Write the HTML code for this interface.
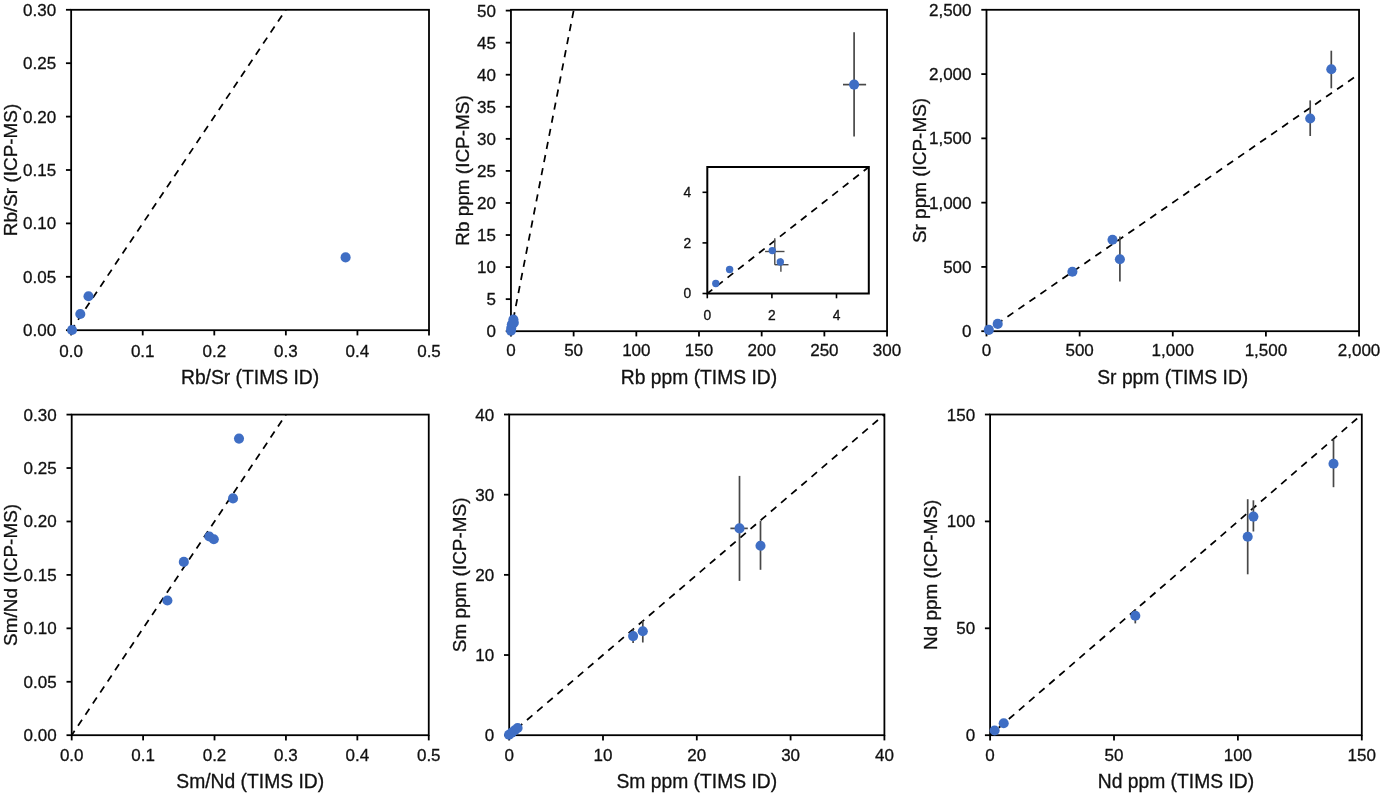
<!DOCTYPE html>
<html><head><meta charset="utf-8"><title>ICP-MS vs TIMS ID</title>
<style>
html,body{margin:0;padding:0;background:#fff;}
body{width:1383px;height:796px;overflow:hidden;}
svg{display:block;will-change:transform;font-family:"Liberation Sans",sans-serif;fill:#111;}
text{stroke:#111;stroke-width:0.3px;}
</style></head><body>
<svg width="1383" height="796" viewBox="0 0 1383 796">
<line x1="285.86" y1="9.80" x2="71.15" y2="330.20" stroke="#000" stroke-width="1.75" stroke-dasharray="7.2 6.10" stroke-dashoffset="-6.90"/>
<rect x="71.15" y="9.80" width="357.85" height="320.40" fill="none" stroke="#000" stroke-width="1.8"/>
<line x1="71.15" y1="330.20" x2="71.15" y2="335.40" stroke="#000" stroke-width="1.8"/>
<text x="71.15" y="356.50" text-anchor="middle" font-size="17.0">0.0</text>
<line x1="142.72" y1="330.20" x2="142.72" y2="335.40" stroke="#000" stroke-width="1.8"/>
<text x="142.72" y="356.50" text-anchor="middle" font-size="17.0">0.1</text>
<line x1="214.29" y1="330.20" x2="214.29" y2="335.40" stroke="#000" stroke-width="1.8"/>
<text x="214.29" y="356.50" text-anchor="middle" font-size="17.0">0.2</text>
<line x1="285.86" y1="330.20" x2="285.86" y2="335.40" stroke="#000" stroke-width="1.8"/>
<text x="285.86" y="356.50" text-anchor="middle" font-size="17.0">0.3</text>
<line x1="357.43" y1="330.20" x2="357.43" y2="335.40" stroke="#000" stroke-width="1.8"/>
<text x="357.43" y="356.50" text-anchor="middle" font-size="17.0">0.4</text>
<line x1="429.00" y1="330.20" x2="429.00" y2="335.40" stroke="#000" stroke-width="1.8"/>
<text x="429.00" y="356.50" text-anchor="middle" font-size="17.0">0.5</text>
<line x1="65.95" y1="330.20" x2="71.15" y2="330.20" stroke="#000" stroke-width="1.8"/>
<text x="56.15" y="336.20" text-anchor="end" font-size="17.0">0.00</text>
<line x1="65.95" y1="276.80" x2="71.15" y2="276.80" stroke="#000" stroke-width="1.8"/>
<text x="56.15" y="282.80" text-anchor="end" font-size="17.0">0.05</text>
<line x1="65.95" y1="223.40" x2="71.15" y2="223.40" stroke="#000" stroke-width="1.8"/>
<text x="56.15" y="229.40" text-anchor="end" font-size="17.0">0.10</text>
<line x1="65.95" y1="170.00" x2="71.15" y2="170.00" stroke="#000" stroke-width="1.8"/>
<text x="56.15" y="176.00" text-anchor="end" font-size="17.0">0.15</text>
<line x1="65.95" y1="116.60" x2="71.15" y2="116.60" stroke="#000" stroke-width="1.8"/>
<text x="56.15" y="122.60" text-anchor="end" font-size="17.0">0.20</text>
<line x1="65.95" y1="63.20" x2="71.15" y2="63.20" stroke="#000" stroke-width="1.8"/>
<text x="56.15" y="69.20" text-anchor="end" font-size="17.0">0.25</text>
<line x1="65.95" y1="9.80" x2="71.15" y2="9.80" stroke="#000" stroke-width="1.8"/>
<text x="56.15" y="15.80" text-anchor="end" font-size="17.0">0.30</text>
<text x="250.07" y="383.80" text-anchor="middle" font-size="19.3">Rb/Sr (TIMS ID)</text>
<text transform="translate(17.40,170.00) rotate(-90)" text-anchor="middle" font-size="18.95">Rb/Sr (ICP-MS)</text>
<circle cx="72.0" cy="330.0" r="5.05" fill="#3F6EC4"/>
<circle cx="80.3" cy="314.0" r="5.05" fill="#3F6EC4"/>
<circle cx="88.5" cy="296.3" r="5.05" fill="#3F6EC4"/>
<circle cx="345.6" cy="257.4" r="5.05" fill="#3F6EC4"/>
<line x1="573.63" y1="10.60" x2="510.95" y2="331.20" stroke="#000" stroke-width="1.75" stroke-dasharray="7.2 6.15" stroke-dashoffset="-0.30"/>
<rect x="510.95" y="9.80" width="376.10" height="321.40" fill="none" stroke="#000" stroke-width="1.8"/>
<line x1="510.95" y1="331.20" x2="510.95" y2="336.40" stroke="#000" stroke-width="1.8"/>
<text x="510.95" y="356.40" text-anchor="middle" font-size="17.0">0</text>
<line x1="573.63" y1="331.20" x2="573.63" y2="336.40" stroke="#000" stroke-width="1.8"/>
<text x="573.63" y="356.40" text-anchor="middle" font-size="17.0">50</text>
<line x1="636.32" y1="331.20" x2="636.32" y2="336.40" stroke="#000" stroke-width="1.8"/>
<text x="636.32" y="356.40" text-anchor="middle" font-size="17.0">100</text>
<line x1="699.00" y1="331.20" x2="699.00" y2="336.40" stroke="#000" stroke-width="1.8"/>
<text x="699.00" y="356.40" text-anchor="middle" font-size="17.0">150</text>
<line x1="761.68" y1="331.20" x2="761.68" y2="336.40" stroke="#000" stroke-width="1.8"/>
<text x="761.68" y="356.40" text-anchor="middle" font-size="17.0">200</text>
<line x1="824.37" y1="331.20" x2="824.37" y2="336.40" stroke="#000" stroke-width="1.8"/>
<text x="824.37" y="356.40" text-anchor="middle" font-size="17.0">250</text>
<line x1="887.05" y1="331.20" x2="887.05" y2="336.40" stroke="#000" stroke-width="1.8"/>
<text x="887.05" y="356.40" text-anchor="middle" font-size="17.0">300</text>
<line x1="505.75" y1="331.20" x2="510.95" y2="331.20" stroke="#000" stroke-width="1.8"/>
<text x="495.95" y="337.20" text-anchor="end" font-size="17.0">0</text>
<line x1="505.75" y1="299.14" x2="510.95" y2="299.14" stroke="#000" stroke-width="1.8"/>
<text x="495.95" y="305.14" text-anchor="end" font-size="17.0">5</text>
<line x1="505.75" y1="267.08" x2="510.95" y2="267.08" stroke="#000" stroke-width="1.8"/>
<text x="495.95" y="273.08" text-anchor="end" font-size="17.0">10</text>
<line x1="505.75" y1="235.02" x2="510.95" y2="235.02" stroke="#000" stroke-width="1.8"/>
<text x="495.95" y="241.02" text-anchor="end" font-size="17.0">15</text>
<line x1="505.75" y1="202.96" x2="510.95" y2="202.96" stroke="#000" stroke-width="1.8"/>
<text x="495.95" y="208.96" text-anchor="end" font-size="17.0">20</text>
<line x1="505.75" y1="170.90" x2="510.95" y2="170.90" stroke="#000" stroke-width="1.8"/>
<text x="495.95" y="176.90" text-anchor="end" font-size="17.0">25</text>
<line x1="505.75" y1="138.84" x2="510.95" y2="138.84" stroke="#000" stroke-width="1.8"/>
<text x="495.95" y="144.84" text-anchor="end" font-size="17.0">30</text>
<line x1="505.75" y1="106.78" x2="510.95" y2="106.78" stroke="#000" stroke-width="1.8"/>
<text x="495.95" y="112.78" text-anchor="end" font-size="17.0">35</text>
<line x1="505.75" y1="74.72" x2="510.95" y2="74.72" stroke="#000" stroke-width="1.8"/>
<text x="495.95" y="80.72" text-anchor="end" font-size="17.0">40</text>
<line x1="505.75" y1="42.66" x2="510.95" y2="42.66" stroke="#000" stroke-width="1.8"/>
<text x="495.95" y="48.66" text-anchor="end" font-size="17.0">45</text>
<line x1="505.75" y1="10.60" x2="510.95" y2="10.60" stroke="#000" stroke-width="1.8"/>
<text x="495.95" y="16.60" text-anchor="end" font-size="17.0">50</text>
<text x="699.00" y="384.40" text-anchor="middle" font-size="19.3">Rb ppm (TIMS ID)</text>
<text transform="translate(468.60,170.50) rotate(-90)" text-anchor="middle" font-size="18.95">Rb ppm (ICP-MS)</text>
<line x1="854.1" y1="32.2" x2="854.1" y2="136.4" stroke="#484848" stroke-width="1.7"/>
<line x1="843.0" y1="84.6" x2="866.1" y2="84.6" stroke="#484848" stroke-width="1.7"/>
<circle cx="511.0" cy="330.6" r="5.05" fill="#3F6EC4"/>
<circle cx="511.3" cy="327.8" r="5.05" fill="#3F6EC4"/>
<circle cx="511.9" cy="324.3" r="5.05" fill="#3F6EC4"/>
<circle cx="513.4" cy="319.5" r="5.05" fill="#3F6EC4"/>
<circle cx="513.8" cy="322.7" r="5.05" fill="#3F6EC4"/>
<circle cx="854.1" cy="84.6" r="5.05" fill="#3F6EC4"/>
<line x1="1359.05" y1="74.08" x2="986.50" y2="331.20" stroke="#000" stroke-width="1.75" stroke-dasharray="7.2 6.15" stroke-dashoffset="-6.15"/>
<rect x="986.50" y="9.80" width="372.55" height="321.40" fill="none" stroke="#000" stroke-width="1.8"/>
<line x1="986.50" y1="331.20" x2="986.50" y2="336.40" stroke="#000" stroke-width="1.8"/>
<text x="986.50" y="356.40" text-anchor="middle" font-size="17.0">0</text>
<line x1="1079.64" y1="331.20" x2="1079.64" y2="336.40" stroke="#000" stroke-width="1.8"/>
<text x="1079.64" y="356.40" text-anchor="middle" font-size="17.0">500</text>
<line x1="1172.78" y1="331.20" x2="1172.78" y2="336.40" stroke="#000" stroke-width="1.8"/>
<text x="1172.78" y="356.40" text-anchor="middle" font-size="17.0">1,000</text>
<line x1="1265.91" y1="331.20" x2="1265.91" y2="336.40" stroke="#000" stroke-width="1.8"/>
<text x="1265.91" y="356.40" text-anchor="middle" font-size="17.0">1,500</text>
<line x1="1359.05" y1="331.20" x2="1359.05" y2="336.40" stroke="#000" stroke-width="1.8"/>
<text x="1359.05" y="356.40" text-anchor="middle" font-size="17.0">2,000</text>
<line x1="981.30" y1="331.20" x2="986.50" y2="331.20" stroke="#000" stroke-width="1.8"/>
<text x="971.50" y="337.20" text-anchor="end" font-size="17.0">0</text>
<line x1="981.30" y1="266.92" x2="986.50" y2="266.92" stroke="#000" stroke-width="1.8"/>
<text x="971.50" y="272.92" text-anchor="end" font-size="17.0">500</text>
<line x1="981.30" y1="202.64" x2="986.50" y2="202.64" stroke="#000" stroke-width="1.8"/>
<text x="971.50" y="208.64" text-anchor="end" font-size="17.0">1,000</text>
<line x1="981.30" y1="138.36" x2="986.50" y2="138.36" stroke="#000" stroke-width="1.8"/>
<text x="971.50" y="144.36" text-anchor="end" font-size="17.0">1,500</text>
<line x1="981.30" y1="74.08" x2="986.50" y2="74.08" stroke="#000" stroke-width="1.8"/>
<text x="971.50" y="80.08" text-anchor="end" font-size="17.0">2,000</text>
<line x1="981.30" y1="9.80" x2="986.50" y2="9.80" stroke="#000" stroke-width="1.8"/>
<text x="971.50" y="15.80" text-anchor="end" font-size="17.0">2,500</text>
<text x="1172.78" y="384.40" text-anchor="middle" font-size="19.3">Sr ppm (TIMS ID)</text>
<text transform="translate(925.70,170.50) rotate(-90)" text-anchor="middle" font-size="18.95">Sr ppm (ICP-MS)</text>
<line x1="1119.9" y1="236.4" x2="1119.9" y2="281.4" stroke="#484848" stroke-width="1.7"/>
<line x1="1310.2" y1="100.4" x2="1310.2" y2="136.0" stroke="#484848" stroke-width="1.7"/>
<line x1="1331.3" y1="50.7" x2="1331.3" y2="88.3" stroke="#484848" stroke-width="1.7"/>
<circle cx="988.8" cy="329.9" r="5.05" fill="#3F6EC4"/>
<circle cx="997.7" cy="323.9" r="5.05" fill="#3F6EC4"/>
<circle cx="1072.4" cy="271.8" r="5.05" fill="#3F6EC4"/>
<circle cx="1112.5" cy="239.7" r="5.05" fill="#3F6EC4"/>
<circle cx="1119.9" cy="259.2" r="5.05" fill="#3F6EC4"/>
<circle cx="1310.2" cy="118.5" r="5.05" fill="#3F6EC4"/>
<circle cx="1331.3" cy="69.2" r="5.05" fill="#3F6EC4"/>
<line x1="285.93" y1="414.60" x2="71.70" y2="735.20" stroke="#000" stroke-width="1.75" stroke-dasharray="7.2 6.13" stroke-dashoffset="-7.10"/>
<rect x="71.70" y="414.60" width="357.05" height="320.60" fill="none" stroke="#000" stroke-width="1.8"/>
<line x1="71.70" y1="735.20" x2="71.70" y2="740.40" stroke="#000" stroke-width="1.8"/>
<text x="71.70" y="760.60" text-anchor="middle" font-size="17.0">0.0</text>
<line x1="143.11" y1="735.20" x2="143.11" y2="740.40" stroke="#000" stroke-width="1.8"/>
<text x="143.11" y="760.60" text-anchor="middle" font-size="17.0">0.1</text>
<line x1="214.52" y1="735.20" x2="214.52" y2="740.40" stroke="#000" stroke-width="1.8"/>
<text x="214.52" y="760.60" text-anchor="middle" font-size="17.0">0.2</text>
<line x1="285.93" y1="735.20" x2="285.93" y2="740.40" stroke="#000" stroke-width="1.8"/>
<text x="285.93" y="760.60" text-anchor="middle" font-size="17.0">0.3</text>
<line x1="357.34" y1="735.20" x2="357.34" y2="740.40" stroke="#000" stroke-width="1.8"/>
<text x="357.34" y="760.60" text-anchor="middle" font-size="17.0">0.4</text>
<line x1="428.75" y1="735.20" x2="428.75" y2="740.40" stroke="#000" stroke-width="1.8"/>
<text x="428.75" y="760.60" text-anchor="middle" font-size="17.0">0.5</text>
<line x1="66.50" y1="735.20" x2="71.70" y2="735.20" stroke="#000" stroke-width="1.8"/>
<text x="56.70" y="741.20" text-anchor="end" font-size="17.0">0.00</text>
<line x1="66.50" y1="681.77" x2="71.70" y2="681.77" stroke="#000" stroke-width="1.8"/>
<text x="56.70" y="687.77" text-anchor="end" font-size="17.0">0.05</text>
<line x1="66.50" y1="628.33" x2="71.70" y2="628.33" stroke="#000" stroke-width="1.8"/>
<text x="56.70" y="634.33" text-anchor="end" font-size="17.0">0.10</text>
<line x1="66.50" y1="574.90" x2="71.70" y2="574.90" stroke="#000" stroke-width="1.8"/>
<text x="56.70" y="580.90" text-anchor="end" font-size="17.0">0.15</text>
<line x1="66.50" y1="521.47" x2="71.70" y2="521.47" stroke="#000" stroke-width="1.8"/>
<text x="56.70" y="527.47" text-anchor="end" font-size="17.0">0.20</text>
<line x1="66.50" y1="468.03" x2="71.70" y2="468.03" stroke="#000" stroke-width="1.8"/>
<text x="56.70" y="474.03" text-anchor="end" font-size="17.0">0.25</text>
<line x1="66.50" y1="414.60" x2="71.70" y2="414.60" stroke="#000" stroke-width="1.8"/>
<text x="56.70" y="420.60" text-anchor="end" font-size="17.0">0.30</text>
<text x="250.22" y="788.40" text-anchor="middle" font-size="19.3">Sm/Nd (TIMS ID)</text>
<text transform="translate(17.30,574.90) rotate(-90)" text-anchor="middle" font-size="18.95">Sm/Nd (ICP-MS)</text>
<circle cx="239.0" cy="438.6" r="5.05" fill="#3F6EC4"/>
<circle cx="233.0" cy="498.4" r="5.05" fill="#3F6EC4"/>
<circle cx="209.3" cy="536.5" r="5.05" fill="#3F6EC4"/>
<circle cx="213.8" cy="539.2" r="5.05" fill="#3F6EC4"/>
<circle cx="183.8" cy="561.9" r="5.05" fill="#3F6EC4"/>
<circle cx="167.4" cy="600.5" r="5.05" fill="#3F6EC4"/>
<line x1="884.40" y1="414.50" x2="509.20" y2="735.20" stroke="#000" stroke-width="1.75" stroke-dasharray="7.2 6.17" stroke-dashoffset="-8.45"/>
<rect x="509.20" y="414.50" width="375.20" height="320.70" fill="none" stroke="#000" stroke-width="1.8"/>
<line x1="509.20" y1="735.20" x2="509.20" y2="740.40" stroke="#000" stroke-width="1.8"/>
<text x="509.20" y="760.60" text-anchor="middle" font-size="17.0">0</text>
<line x1="603.00" y1="735.20" x2="603.00" y2="740.40" stroke="#000" stroke-width="1.8"/>
<text x="603.00" y="760.60" text-anchor="middle" font-size="17.0">10</text>
<line x1="696.80" y1="735.20" x2="696.80" y2="740.40" stroke="#000" stroke-width="1.8"/>
<text x="696.80" y="760.60" text-anchor="middle" font-size="17.0">20</text>
<line x1="790.60" y1="735.20" x2="790.60" y2="740.40" stroke="#000" stroke-width="1.8"/>
<text x="790.60" y="760.60" text-anchor="middle" font-size="17.0">30</text>
<line x1="884.40" y1="735.20" x2="884.40" y2="740.40" stroke="#000" stroke-width="1.8"/>
<text x="884.40" y="760.60" text-anchor="middle" font-size="17.0">40</text>
<line x1="504.00" y1="735.20" x2="509.20" y2="735.20" stroke="#000" stroke-width="1.8"/>
<text x="494.20" y="741.20" text-anchor="end" font-size="17.0">0</text>
<line x1="504.00" y1="655.03" x2="509.20" y2="655.03" stroke="#000" stroke-width="1.8"/>
<text x="494.20" y="661.03" text-anchor="end" font-size="17.0">10</text>
<line x1="504.00" y1="574.85" x2="509.20" y2="574.85" stroke="#000" stroke-width="1.8"/>
<text x="494.20" y="580.85" text-anchor="end" font-size="17.0">20</text>
<line x1="504.00" y1="494.67" x2="509.20" y2="494.67" stroke="#000" stroke-width="1.8"/>
<text x="494.20" y="500.67" text-anchor="end" font-size="17.0">30</text>
<line x1="504.00" y1="414.50" x2="509.20" y2="414.50" stroke="#000" stroke-width="1.8"/>
<text x="494.20" y="420.50" text-anchor="end" font-size="17.0">40</text>
<text x="696.80" y="788.40" text-anchor="middle" font-size="19.3">Sm ppm (TIMS ID)</text>
<text transform="translate(466.10,574.85) rotate(-90)" text-anchor="middle" font-size="18.95">Sm ppm (ICP-MS)</text>
<line x1="633.1" y1="629.2" x2="633.1" y2="643.0" stroke="#484848" stroke-width="1.7"/>
<line x1="642.8" y1="620.9" x2="642.8" y2="642.5" stroke="#484848" stroke-width="1.7"/>
<line x1="739.5" y1="475.9" x2="739.5" y2="580.9" stroke="#484848" stroke-width="1.7"/>
<line x1="730.4" y1="528.4" x2="747.8" y2="528.4" stroke="#484848" stroke-width="1.7"/>
<line x1="760.5" y1="520.7" x2="760.5" y2="569.8" stroke="#484848" stroke-width="1.7"/>
<circle cx="509.0" cy="734.8" r="5.05" fill="#3F6EC4"/>
<circle cx="511.8" cy="732.6" r="5.05" fill="#3F6EC4"/>
<circle cx="514.8" cy="730.2" r="5.05" fill="#3F6EC4"/>
<circle cx="517.6" cy="728.0" r="5.05" fill="#3F6EC4"/>
<circle cx="633.1" cy="636.1" r="5.05" fill="#3F6EC4"/>
<circle cx="642.8" cy="631.2" r="5.05" fill="#3F6EC4"/>
<circle cx="739.5" cy="528.4" r="5.05" fill="#3F6EC4"/>
<circle cx="760.5" cy="545.8" r="5.05" fill="#3F6EC4"/>
<line x1="1361.80" y1="414.50" x2="990.10" y2="735.20" stroke="#000" stroke-width="1.75" stroke-dasharray="7.2 6.12" stroke-dashoffset="-6.10"/>
<rect x="990.10" y="414.50" width="371.70" height="320.70" fill="none" stroke="#000" stroke-width="1.8"/>
<line x1="990.10" y1="735.20" x2="990.10" y2="740.40" stroke="#000" stroke-width="1.8"/>
<text x="990.10" y="760.60" text-anchor="middle" font-size="17.0">0</text>
<line x1="1114.00" y1="735.20" x2="1114.00" y2="740.40" stroke="#000" stroke-width="1.8"/>
<text x="1114.00" y="760.60" text-anchor="middle" font-size="17.0">50</text>
<line x1="1237.90" y1="735.20" x2="1237.90" y2="740.40" stroke="#000" stroke-width="1.8"/>
<text x="1237.90" y="760.60" text-anchor="middle" font-size="17.0">100</text>
<line x1="1361.80" y1="735.20" x2="1361.80" y2="740.40" stroke="#000" stroke-width="1.8"/>
<text x="1361.80" y="760.60" text-anchor="middle" font-size="17.0">150</text>
<line x1="984.90" y1="735.20" x2="990.10" y2="735.20" stroke="#000" stroke-width="1.8"/>
<text x="975.10" y="741.20" text-anchor="end" font-size="17.0">0</text>
<line x1="984.90" y1="628.30" x2="990.10" y2="628.30" stroke="#000" stroke-width="1.8"/>
<text x="975.10" y="634.30" text-anchor="end" font-size="17.0">50</text>
<line x1="984.90" y1="521.40" x2="990.10" y2="521.40" stroke="#000" stroke-width="1.8"/>
<text x="975.10" y="527.40" text-anchor="end" font-size="17.0">100</text>
<line x1="984.90" y1="414.50" x2="990.10" y2="414.50" stroke="#000" stroke-width="1.8"/>
<text x="975.10" y="420.50" text-anchor="end" font-size="17.0">150</text>
<text x="1175.95" y="788.40" text-anchor="middle" font-size="19.3">Nd ppm (TIMS ID)</text>
<text transform="translate(937.30,574.85) rotate(-90)" text-anchor="middle" font-size="18.95">Nd ppm (ICP-MS)</text>
<line x1="1135.3" y1="609.0" x2="1135.3" y2="623.4" stroke="#484848" stroke-width="1.7"/>
<line x1="1247.7" y1="499.2" x2="1247.7" y2="574.3" stroke="#484848" stroke-width="1.7"/>
<line x1="1253.4" y1="500.3" x2="1253.4" y2="531.5" stroke="#484848" stroke-width="1.7"/>
<line x1="1333.5" y1="439.2" x2="1333.5" y2="487.2" stroke="#484848" stroke-width="1.7"/>
<circle cx="994.6" cy="730.5" r="5.05" fill="#3F6EC4"/>
<circle cx="1003.7" cy="723.2" r="5.05" fill="#3F6EC4"/>
<circle cx="1135.3" cy="615.7" r="5.05" fill="#3F6EC4"/>
<circle cx="1247.7" cy="536.7" r="5.05" fill="#3F6EC4"/>
<circle cx="1253.4" cy="516.6" r="5.05" fill="#3F6EC4"/>
<circle cx="1333.5" cy="463.7" r="5.05" fill="#3F6EC4"/>
<rect x="707.3" y="167.0" width="161.50" height="126.50" fill="#fff" stroke="#000" stroke-width="2"/>
<line x1="868.8" y1="167.0" x2="707.3" y2="293.5" stroke="#000" stroke-width="1.75" stroke-dasharray="7.2 6.1" stroke-dashoffset="0.7"/>
<line x1="707.30" y1="293.5" x2="707.30" y2="298.3" stroke="#000" stroke-width="1.6"/>
<line x1="702.5" y1="293.50" x2="707.3" y2="293.50" stroke="#000" stroke-width="1.6"/>
<text x="707.30" y="320.40" text-anchor="middle" font-size="13.8">0</text>
<text x="691.10" y="298.10" text-anchor="end" font-size="13.8">0</text>
<line x1="771.90" y1="293.5" x2="771.90" y2="298.3" stroke="#000" stroke-width="1.6"/>
<line x1="702.5" y1="242.90" x2="707.3" y2="242.90" stroke="#000" stroke-width="1.6"/>
<text x="771.90" y="320.40" text-anchor="middle" font-size="13.8">2</text>
<text x="691.10" y="247.50" text-anchor="end" font-size="13.8">2</text>
<line x1="836.50" y1="293.5" x2="836.50" y2="298.3" stroke="#000" stroke-width="1.6"/>
<line x1="702.5" y1="192.30" x2="707.3" y2="192.30" stroke="#000" stroke-width="1.6"/>
<text x="836.50" y="320.40" text-anchor="middle" font-size="13.8">4</text>
<text x="691.10" y="196.90" text-anchor="end" font-size="13.8">4</text>
<line x1="774.8" y1="238.3" x2="774.8" y2="264.7" stroke="#484848" stroke-width="1.4"/>
<line x1="780.9" y1="258.5" x2="780.9" y2="271.7" stroke="#484848" stroke-width="1.4"/>
<line x1="765.1" y1="251.5" x2="784.5" y2="251.5" stroke="#484848" stroke-width="1.4"/>
<line x1="774.8" y1="264.7" x2="788.5" y2="264.7" stroke="#484848" stroke-width="1.4"/>
<circle cx="715.8" cy="283.5" r="3.7" fill="#3F6EC4"/>
<circle cx="729.6" cy="269.5" r="3.7" fill="#3F6EC4"/>
<circle cx="772.3" cy="250.6" r="3.7" fill="#3F6EC4"/>
<circle cx="780.3" cy="262.0" r="3.7" fill="#3F6EC4"/>
</svg>
</body></html>
